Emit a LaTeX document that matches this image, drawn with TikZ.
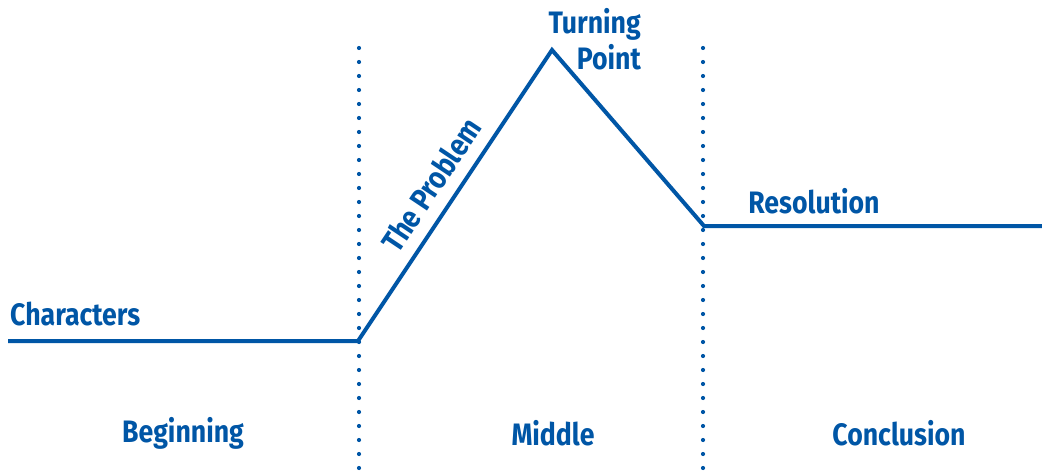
\documentclass[tikz,border=0pt]{standalone}
\usepackage{fontspec}
\setmainfont{Fira Sans}[FakeStretch=0.86]
\definecolor{plotblue}{RGB}{0,86,166}
\begin{document}
\begin{tikzpicture}[x=1pt,y=-1pt,
  lbl/.style={text=plotblue,font=\fontsize{31}{36}\selectfont\bfseries,inner sep=0pt},
  plotline/.style={draw=plotblue,line width=4pt,line join=miter},
  divider/.style={draw=plotblue,line width=4.2pt,line cap=round,dash pattern=on 0pt off 14pt}]
\useasboundingbox (0,0) rectangle (1042,471);
% plot line points
\coordinate (start) at (8,341);
\coordinate (rise) at (358,341);
\coordinate (peak) at (552,50);
\coordinate (fall) at (704,226);
\coordinate (end) at (1042,226);
\draw[plotline] (start) -- (rise) -- (peak) -- (fall) -- (end);
% dividers
\coordinate (d1top) at (359,48);
\coordinate (d1bot) at (359,474);
\coordinate (d2top) at (703,48);
\coordinate (d2bot) at (703,474);
\draw[divider] (d1top) -- (d1bot);
\draw[divider] (d2top) -- (d2bot);
% labels
\node[lbl,anchor=base west] (characters) at (10,325) {Characters};
\node[lbl,rotate=56.3] (problem) at (431,185) {The Problem};
\node[lbl,align=right,anchor=north east] (turning) at (641,8) {Turning\\Point};
\node[lbl] (resolution) at (814,201) {Resolution};
\node[lbl] (beginning) at (183,433) {Beginning};
\node[lbl] (middle) at (553,433) {Middle};
\node[lbl] (conclusion) at (899,433) {Conclusion};
\end{tikzpicture}
\end{document}
